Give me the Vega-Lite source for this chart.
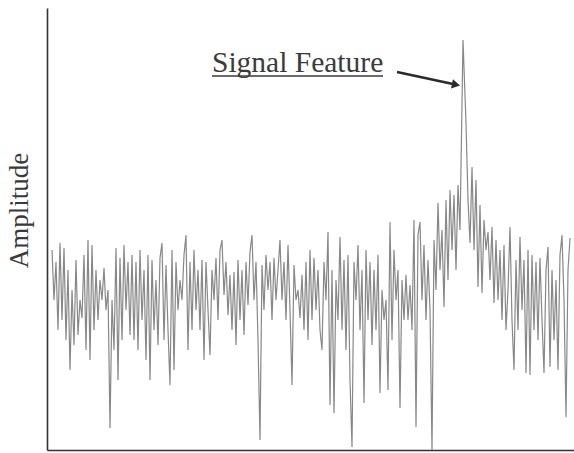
{
  "$schema": "https://vega.github.io/schema/vega-lite/v6.json",
  "width": 527,
  "height": 442,
  "autosize": {"type": "none"},
  "padding": {"left": 47, "top": 8, "right": 0, "bottom": 3},
  "background": "white",
  "config": {
    "view": {"stroke": null},
    "axis": {"domainColor": "#333333", "domainWidth": 1.6, "ticks": false, "labels": false, "grid": false}
  },
  "datasets": {
    "signal": [
      {"t":52,"amp":200},{"t":54,"amp":150},{"t":56,"amp":188},{"t":58,"amp":120},{"t":60,"amp":207},{"t":62,"amp":130},{"t":64,"amp":202},{"t":66,"amp":110},{"t":68,"amp":180},{"t":70,"amp":80},{"t":72,"amp":160},{"t":74,"amp":105},{"t":76,"amp":190},{"t":78,"amp":115},{"t":80,"amp":150},{"t":82,"amp":132},{"t":84,"amp":195},{"t":86,"amp":100},{"t":88,"amp":210},{"t":90,"amp":90},{"t":92,"amp":205},{"t":94,"amp":120},{"t":96,"amp":180},{"t":98,"amp":130},{"t":100,"amp":170},{"t":102,"amp":150},{"t":104,"amp":182},{"t":106,"amp":140},{"t":108,"amp":160},{"t":110,"amp":22},{"t":112,"amp":150},{"t":114,"amp":100},{"t":116,"amp":202},{"t":118,"amp":70},{"t":120,"amp":192},{"t":122,"amp":110},{"t":124,"amp":205},{"t":126,"amp":140},{"t":128,"amp":188},
      {"t":130,"amp":115},{"t":132,"amp":195},{"t":134,"amp":110},{"t":136,"amp":188},{"t":138,"amp":100},{"t":140,"amp":200},{"t":142,"amp":130},{"t":144,"amp":180},{"t":146,"amp":90},{"t":148,"amp":195},{"t":150,"amp":70},{"t":152,"amp":190},{"t":154,"amp":120},{"t":156,"amp":170},{"t":158,"amp":105},{"t":160,"amp":192},{"t":162,"amp":207},{"t":164,"amp":110},{"t":166,"amp":185},{"t":168,"amp":120},{"t":170,"amp":65},{"t":172,"amp":200},{"t":174,"amp":80},{"t":176,"amp":188},{"t":178,"amp":140},{"t":180,"amp":170},{"t":182,"amp":150},{"t":184,"amp":195},{"t":186,"amp":215},{"t":188,"amp":100},{"t":190,"amp":188},{"t":192,"amp":120},{"t":194,"amp":200},{"t":196,"amp":140},{"t":198,"amp":180},{"t":200,"amp":120},{"t":202,"amp":190},{"t":204,"amp":90},
      {"t":206,"amp":188},{"t":208,"amp":140},{"t":210,"amp":95},{"t":212,"amp":180},{"t":214,"amp":150},{"t":216,"amp":192},{"t":218,"amp":130},{"t":220,"amp":200},{"t":222,"amp":210},{"t":224,"amp":155},{"t":226,"amp":188},{"t":228,"amp":135},{"t":230,"amp":175},{"t":232,"amp":120},{"t":234,"amp":178},{"t":236,"amp":105},{"t":238,"amp":190},{"t":240,"amp":130},{"t":242,"amp":180},{"t":244,"amp":115},{"t":246,"amp":188},{"t":248,"amp":145},{"t":250,"amp":198},{"t":252,"amp":215},{"t":254,"amp":150},{"t":256,"amp":188},{"t":258,"amp":110},{"t":260,"amp":10},{"t":262,"amp":185},{"t":264,"amp":140},{"t":266,"amp":195},{"t":268,"amp":160},{"t":270,"amp":188},{"t":272,"amp":130},{"t":274,"amp":192},{"t":276,"amp":150},{"t":278,"amp":180},
      {"t":280,"amp":210},{"t":282,"amp":150},{"t":284,"amp":188},{"t":286,"amp":130},{"t":288,"amp":205},{"t":290,"amp":140},{"t":292,"amp":65},{"t":294,"amp":185},{"t":296,"amp":150},{"t":298,"amp":160},{"t":300,"amp":132},{"t":302,"amp":175},{"t":304,"amp":120},{"t":306,"amp":188},{"t":308,"amp":110},{"t":310,"amp":200},{"t":312,"amp":130},{"t":314,"amp":192},{"t":316,"amp":140},{"t":318,"amp":180},{"t":320,"amp":120},{"t":322,"amp":100},{"t":324,"amp":188},{"t":326,"amp":150},{"t":328,"amp":218},{"t":330,"amp":45},{"t":332,"amp":180},{"t":334,"amp":37},{"t":336,"amp":170},{"t":338,"amp":130},{"t":340,"amp":213},{"t":342,"amp":120},{"t":344,"amp":190},{"t":346,"amp":100},{"t":348,"amp":195},{"t":350,"amp":70},{"t":352,"amp":3},{"t":354,"amp":188},
      {"t":356,"amp":150},{"t":358,"amp":205},{"t":360,"amp":120},{"t":362,"amp":180},{"t":364,"amp":47},{"t":366,"amp":200},{"t":368,"amp":130},{"t":370,"amp":188},{"t":372,"amp":105},{"t":374,"amp":180},{"t":376,"amp":120},{"t":378,"amp":195},{"t":380,"amp":57},{"t":382,"amp":160},{"t":384,"amp":130},{"t":386,"amp":150},{"t":388,"amp":60},{"t":390,"amp":228},{"t":392,"amp":110},{"t":394,"amp":200},{"t":396,"amp":150},{"t":398,"amp":180},{"t":400,"amp":42},{"t":402,"amp":170},{"t":404,"amp":130},{"t":406,"amp":175},{"t":408,"amp":130},{"t":410,"amp":165},{"t":412,"amp":120},{"t":414,"amp":230},{"t":416,"amp":23},{"t":418,"amp":215},{"t":420,"amp":228},{"t":422,"amp":150},{"t":424,"amp":205},{"t":426,"amp":130},
      {"t":428,"amp":190},{"t":430,"amp":140},{"t":432,"amp":0},{"t":434,"amp":210},{"t":436,"amp":160},{"t":438,"amp":247},{"t":440,"amp":180},{"t":442,"amp":220},{"t":444,"amp":143},{"t":446,"amp":250},{"t":448,"amp":170},{"t":450,"amp":260},{"t":452,"amp":200},{"t":454,"amp":255},{"t":456,"amp":180},{"t":458,"amp":265},{"t":460,"amp":220},{"t":463,"amp":410},{"t":466,"amp":327},{"t":468,"amp":250},{"t":470,"amp":207},{"t":472,"amp":283},{"t":474,"amp":200},{"t":476,"amp":270},{"t":478,"amp":163},{"t":480,"amp":245},{"t":482,"amp":157},{"t":484,"amp":230},{"t":486,"amp":200},{"t":488,"amp":218},{"t":490,"amp":170},{"t":492,"amp":223},{"t":494,"amp":147},{"t":496,"amp":210},
      {"t":498,"amp":150},{"t":500,"amp":200},{"t":502,"amp":130},{"t":504,"amp":205},{"t":506,"amp":120},{"t":508,"amp":160},{"t":510,"amp":223},{"t":512,"amp":130},{"t":514,"amp":80},{"t":516,"amp":190},{"t":518,"amp":120},{"t":520,"amp":213},{"t":522,"amp":140},{"t":524,"amp":190},{"t":526,"amp":77},{"t":528,"amp":200},{"t":530,"amp":75},{"t":532,"amp":195},{"t":534,"amp":120},{"t":536,"amp":188},{"t":538,"amp":110},{"t":540,"amp":192},{"t":542,"amp":130},{"t":544,"amp":77},{"t":546,"amp":180},{"t":548,"amp":203},{"t":550,"amp":83},{"t":552,"amp":180},{"t":554,"amp":110},{"t":556,"amp":170},{"t":558,"amp":80},{"t":560,"amp":195},{"t":562,"amp":215},{"t":564,"amp":150},{"t":566,"amp":33},{"t":568,"amp":180},{"t":570,"amp":212}
    ],
    "label": [{"t": 212, "amp": 378, "label": "Signal Feature"}],
    "underline": [{"t": 212, "t2": 383, "amp": 374}],
    "arrow": [{"t": 397, "amp": 378, "t2": 453, "amp2": 366}],
    "arrowhead": [{"t": 456, "amp": 365.3}]
  },
  "encoding": {
    "x": {"field": "t", "type": "quantitative", "scale": {"domain": [47, 574], "nice": false, "zero": false}, "axis": {"title": null}},
    "y": {"field": "amp", "type": "quantitative", "scale": {"domain": [0, 442], "nice": false, "zero": false},
          "axis": {"title": "Amplitude", "titleFont": "Liberation Serif", "titleFontSize": 27, "titleFontWeight": "normal", "titleColor": "#3a3a3a", "titleX": -14, "titleY": 202}}
  },
  "layer": [
    {
      "data": {"name": "signal"},
      "mark": {"type": "line", "color": "#888888", "strokeWidth": 1.2, "interpolate": "linear"}
    },
    {
      "data": {"name": "label"},
      "mark": {"type": "text", "align": "left", "baseline": "alphabetic", "font": "Liberation Serif", "fontSize": 29.5, "color": "#3a3a3a"},
      "encoding": {"text": {"field": "label"}}
    },
    {
      "data": {"name": "underline"},
      "mark": {"type": "rule", "color": "#3a3a3a", "strokeWidth": 1.5},
      "encoding": {"x2": {"field": "t2"}}
    },
    {
      "data": {"name": "arrow"},
      "mark": {"type": "rule", "color": "#2a2a2a", "strokeWidth": 2.5},
      "encoding": {"x2": {"field": "t2"}, "y2": {"field": "amp2"}}
    },
    {
      "data": {"name": "arrowhead"},
      "mark": {"type": "point", "shape": "triangle-right", "filled": true, "color": "#2a2a2a", "size": 90, "angle": 12, "opacity": 1}
    }
  ]
}
